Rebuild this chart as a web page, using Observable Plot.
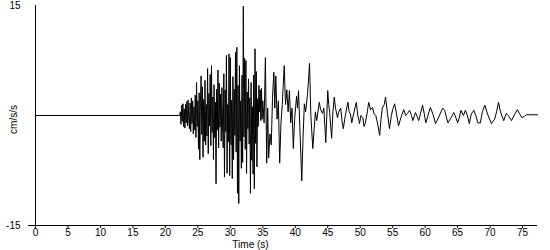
<!DOCTYPE html>
<html><head><meta charset="utf-8">
<script src="https://cdn.jsdelivr.net/npm/d3@7"></script>
<script src="https://cdn.jsdelivr.net/npm/@observablehq/plot@0.6"></script>
<style>body{margin:0;background:#fff}</style>
</head><body><div id="chart"></div>
<script>
// quiet pre-event baseline
const baseTimes = [0, 22.2];
const baseValues = [0, 0];
// strong-motion part, sampled every 0.1 s from 22.3 s
const denseStart = 22.3;
const denseStep = 0.1;
const denseValues = [
  0.5,-1.2,1.4,-0.8,1.6,-1.5,0.9,-1.7,1.5,-1.0,
  1.9,-1.4,2.1,-0.6,-1.8,1.7,-2.2,2.4,-1.1,2.0,
  -2.5,1.2,-2.0,2.8,-3.0,4.5,-1.5,2.0,-4.6,3.1,
  -6.0,1.8,5.4,-2.6,3.9,-5.7,2.2,-3.5,4.8,-4.0,
  1.5,-2.8,6.4,-5.2,3.0,-1.4,5.6,-4.1,6.8,-2.3,
  2.5,-6.0,4.2,-3.0,1.8,-9.3,3.6,-2.0,6.2,-4.4,
  4.4,-1.6,2.9,-3.5,3.8,-1.2,-4.4,5.7,-8.4,3.5,
  -2.2,8.2,-7.9,1.5,-3.6,8.4,-8.2,7.9,-4.0,2.1,
  -8.6,5.3,-6.0,3.6,-2.7,8.6,-5.0,9.3,-10.6,4.1,
  -12.0,6.8,-3.5,2.0,-7.2,5.5,-6.4,14.9,-2.9,7.8,
  -4.6,7.5,-7.9,3.2,-1.8,5.0,-3.9,2.4,-10.6,4.5,
  -6.1,1.2,-8.0,5.5,-10.0,9.1,-3.8,6.0,-7.0,2.3,
  -1.5,4.1,0.5,3.5,-0.7,3.7,-0.5,2.0
];
// coda: turning points
const codaTimes = [
  35.2,35.4,35.6,35.75,35.9,36.1,36.3,36.5,36.7,36.85,37.0,37.2,37.4,37.6,37.8,38.0,38.3,38.5,38.7,38.9,
  39.1,39.3,39.5,39.7,39.9,40.2,40.35,40.5,40.7,41.0,41.2,41.4,41.6,41.9,42.2,42.4,42.7,42.9,43.1,43.3,
  43.7,43.9,44.2,44.4,44.7,45.0,45.15,45.3,45.6,45.8,46.0,46.2,46.5,46.7,47.0,47.2,47.4,47.7,48.1,48.3,
  48.5,48.7,49.0,49.4,49.6,49.9,50.1,50.4,50.6,50.8,51.1,51.3,51.6,51.9,52.1,52.4,52.7,53.0,53.2,53.4,
  53.7,53.9,54.2,54.5,54.8,55.0,55.3,55.6,55.9,56.3,56.7,57.0,57.3,57.6,57.9,58.1,58.5,58.8,59.0,59.3,
  59.6,59.85,60.1,60.5,60.8,61.2,61.6,62.1,62.7,63.0,63.5,64.0,64.4,64.7,65.0,65.3,65.5,65.9,66.2,66.5,
  66.8,67.1,67.5,67.8,68.1,68.5,68.8,69.2,69.6,70.2,70.7,71.0,71.3,71.6,72.1,72.5,72.8,73.3,73.8,74.2,
  74.5,74.9,75.3,75.6,76.3,77.0,77.3
];
const codaValues = [
  -1.0,7.9,-6.5,1.0,-5.8,-2.5,-4.0,2.5,5.9,1.0,5.4,-0.5,2.0,-6.5,-1.0,1.5,6.8,1.5,3.5,0.5,
  3.4,-1.0,1.0,-4.5,-0.5,2.6,1.0,3.4,-1.5,-8.9,-3.0,1.6,0.5,3.0,7.1,0.0,-4.5,-2.0,0.5,-0.7,
  1.8,0.8,0.3,1.0,-3.7,3.4,1.5,0.4,-3.1,0.5,2.5,1.0,-0.3,0.5,1.0,-0.8,-1.8,0.0,1.8,0.5,
  0.2,-1.0,0.3,1.8,0.2,-1.1,0.0,-0.3,-1.5,-1.0,0.5,1.8,0.8,1.1,0.3,0.0,-1.2,-2.7,-0.5,1.0,
  1.5,2.5,0.3,-1.8,0.0,0.8,1.6,0.2,-1.4,-0.2,0.8,0.0,0.3,0.7,0.0,-0.7,0.4,-0.2,-0.7,0.3,
  1.4,0.3,-1.0,0.2,1.1,0.2,-1.1,-0.2,1.0,0.7,-1.0,-0.3,0.4,-0.2,-1.0,-0.2,0.7,0.0,0.7,0.0,
  -1.1,0.2,0.7,0.0,-1.0,-1.0,0.5,1.4,0.2,-1.1,-0.5,0.5,1.8,0.5,-0.7,0.3,0.0,-0.7,0.2,0.8,
  0.3,-0.3,-0.1,0.1,0.1,0.1,0.1
];
const xTicks = [0,5,10,15,20,25,30,35,40,45,50,55,60,65,70,75];
const yTicks = [-15, 15];
const xDomain = [0, 77.3];
const yDomain = [-15, 15];
const xTitle = "Time (s)";
const yTitle = "cm/s/s";

const data = [];
baseTimes.forEach((t, i) => data.push({t, v: baseValues[i]}));
denseValues.forEach((v, i) => data.push({t: +(denseStart + i * denseStep).toFixed(2), v}));
codaTimes.forEach((t, i) => data.push({t, v: codaValues[i]}));

const chart = Plot.plot({
  width: 550,
  height: 250,
  marginLeft: 35,
  marginRight: 13,
  marginTop: 5,
  marginBottom: 25,
  x: {domain: xDomain},
  y: {domain: yDomain},
  style: {fontFamily: "'Liberation Sans', Arial, sans-serif", fontSize: "10px", color: "#000", background: "#fff"},
  marks: [
    Plot.axisX({ticks: xTicks, tickSize: 3, tickPadding: 0, label: null, tickFormat: d => String(d)}),
    Plot.axisY({ticks: yTicks, tickSize: 0, tickPadding: 15, label: null, tickFormat: d => String(d)}),
    Plot.axisY({ticks: [yDomain[0]], tickSize: 7, tickFormat: () => "", label: null}),
    Plot.ruleY([yDomain[0]], {stroke: "#000"}),
    Plot.ruleX([xDomain[0]], {stroke: "#000"}),
    Plot.line(data, {x: "t", y: "v", stroke: "#000", strokeWidth: 1}),
    Plot.text([xTitle], {frameAnchor: "bottom", textAnchor: "middle", lineAnchor: "top", dx: -36, dy: 15, fill: "#000"}),
    Plot.text([yTitle], {frameAnchor: "left", textAnchor: "middle", lineAnchor: "middle", rotate: -90, dx: -22, dy: 4, fill: "#000"})
  ]
});
document.getElementById("chart").appendChild(chart);
</script>
</body></html>
